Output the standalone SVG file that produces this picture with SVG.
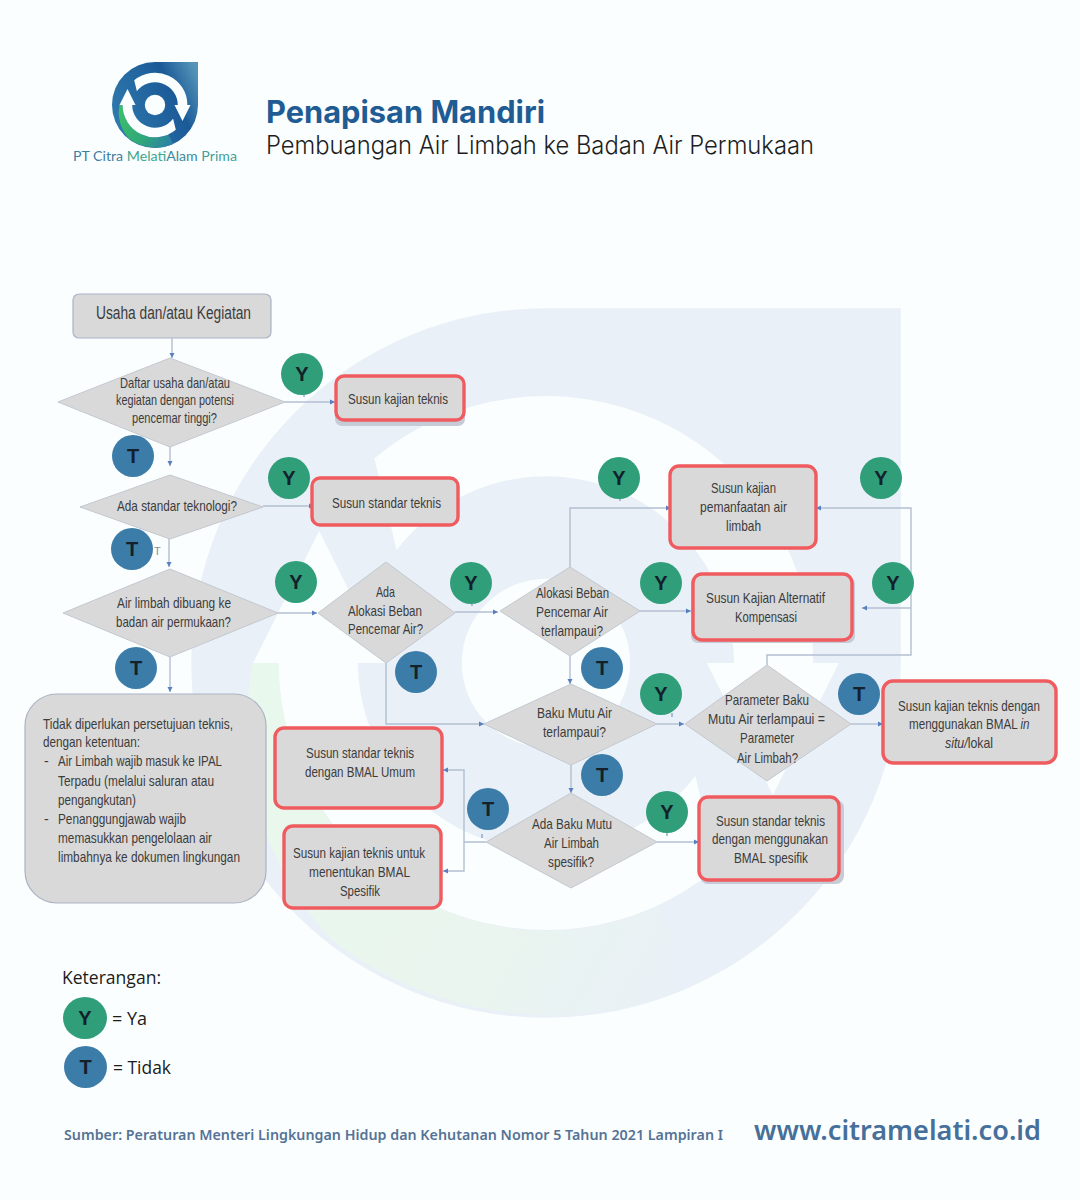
<svg xmlns="http://www.w3.org/2000/svg" width="1080" height="1200" viewBox="0 0 1080 1200">
<style>
text{font-family:"Liberation Sans",Arial,sans-serif}
.t{font-size:14.2px;fill:#3c3c3c}
.box{fill:#d9d9d9;stroke:#aab4c6;stroke-width:1.2}
.red{fill:#d9d9d9;stroke:#ef5b5e;stroke-width:3.4}
.shd{fill:#c6ccd7}
.dia{fill:#d9d9d9;stroke:#c3c8d0;stroke-width:1}
.c{fill:none;stroke:#b3bfd2;stroke-width:1.4}
.ca{fill:none;stroke:#b3bfd2;stroke-width:1.4;marker-end:url(#ah)}
.tick{fill:none;stroke:#7f98bd;stroke-width:1.2}
.y{fill:#2f9e79}
.n{fill:#3c7ca8}
.l{font-size:20px;font-weight:bold;fill:#14202a;text-anchor:middle}
.k{font-family:"Open Sans","Liberation Sans",sans-serif;font-size:18px;fill:#1c1c1c}
</style>
<defs>
<marker id="ah" markerUnits="userSpaceOnUse" markerWidth="8" markerHeight="8" refX="7" refY="4" orient="auto"><path d="M2,1.5 L7,4 L2,6.5 Z" fill="#5a7fc0"/></marker>
<path id="sweep" d="M-20.8,-24.8 A32.4,32.4 0 0 1 32.4,0 L35.5,0 L27.5,16 L19.5,0 L22.8,0 A22.8,22.8 0 0 0 -18.1,-13.7 Z"/>
<path id="drop" d="M0,-43 L43,-43 L43,0 A43,43 0 1 1 0,-43 Z"/>
<path id="cres" d="M-35.5,0 A38,38 0 0 0 -26,33.5 A43,43 0 0 0 18,39 L13.5,29.5 A32.4,32.4 0 0 1 -32.4,0 Z"/>
<linearGradient id="lg" gradientUnits="userSpaceOnUse" x1="-43" y1="10" x2="43" y2="-30"><stop offset="0" stop-color="#2f79ad"/><stop offset=".68" stop-color="#1b5a98"/><stop offset="1" stop-color="#5594b8"/></linearGradient>
<linearGradient id="gr" gradientUnits="userSpaceOnUse" x1="-30" y1="0" x2="22" y2="30"><stop offset="0" stop-color="#3cbd68"/><stop offset=".55" stop-color="#2fa77a"/><stop offset="1" stop-color="#2b7ea8"/></linearGradient>
<linearGradient id="wg" gradientUnits="userSpaceOnUse" x1="-30" y1="0" x2="22" y2="30"><stop offset="0" stop-color="#e9f8ec"/><stop offset=".6" stop-color="#e9f5ee"/><stop offset="1" stop-color="#e9f0f7"/></linearGradient>
</defs>
<rect width="1080" height="1200" fill="#fbfefe"/>
<g id="watermark" transform="translate(546,663) scale(8.25)">
<use href="#drop" fill="#e9f0f7"/>
<use href="#cres" fill="url(#wg)"/>
<use href="#sweep" fill="#fbfefe"/>
<use href="#sweep" fill="#fbfefe" transform="rotate(180)"/>
<circle r="10.2" fill="#fbfefe"/>
</g>
<g id="logo">
<g transform="translate(155,105)">
<use href="#drop" fill="url(#lg)"/>
<use href="#cres" fill="url(#gr)"/>
<use href="#sweep" fill="#fbfefe"/>
<use href="#sweep" fill="#fbfefe" transform="rotate(180)"/>
<circle r="10.2" fill="#fbfefe"/>
</g>
<text x="73" y="161" font-size="13" textLength="164" lengthAdjust="spacingAndGlyphs" style="font-family:Lato,'Open Sans',sans-serif"><tspan fill="#3d7fa3">PT Citra </tspan><tspan fill="#3fa68d">Melati</tspan><tspan fill="#3d8a9b">Alam </tspan><tspan fill="#3f9f9a">Prima</tspan></text>
</g>
<g id="title">
<text x="266" y="123" font-size="31" font-weight="700" fill="#1f5c94" textLength="279" lengthAdjust="spacingAndGlyphs" style="font-family:Inter,'Open Sans',sans-serif">Penapisan Mandiri</text>
<text x="266" y="154" font-size="25" fill="#1e1e1e" textLength="548" lengthAdjust="spacingAndGlyphs" style="font-family:Inter,'Open Sans',sans-serif;font-weight:300">Pembuangan Air Limbah ke Badan Air Permukaan</text>
</g>
<g id="connectors">
<path class="ca" d="M172,338 V358"/>
<path class="ca" d="M285,402 H335"/>
<path class="ca" d="M170,447 V466"/>
<path class="ca" d="M263,506 H314"/>
<path class="ca" d="M169,539 V567"/>
<path class="ca" d="M170,657 V692"/>
<path class="ca" d="M278,613 H317"/>
<path class="ca" d="M455,612 H498"/>
<path class="ca" d="M570,567 V508 H671"/>
<path class="ca" d="M640,611 H691"/>
<path class="ca" d="M570,656 V684"/>
<path class="ca" d="M657,724 H684"/>
<path class="ca" d="M851,724 H883"/>
<path class="ca" d="M386,663 V724 H484"/>
<path class="ca" d="M571,765 V793"/>
<path class="ca" d="M657,842 H699"/>
<path class="ca" d="M767,665 V655 H911 V508 H816"/>
<path class="ca" d="M911,608 H862"/>
<path class="ca" d="M486,842 H464 V770 H443"/>
<path class="ca" d="M464,842 V871 H443"/>
<path class="tick" d="M304,395 v2 M620,499 v2 M472,604 v2 M672,713 v4 M667,832 v4 M482,834 v4"/>
</g>
<g id="start"><rect class="box" x="73" y="294" width="198" height="44" rx="6"/><text class="t" style="font-size:17.5px" x="96" y="319" textLength="155" lengthAdjust="spacingAndGlyphs">Usaha dan/atau Kegiatan</text></g>
<g id="d1"><polygon class="dia" points="58,402 170,358 285,402 170,447"/>
<text class="t" x="120" y="388" textLength="110" lengthAdjust="spacingAndGlyphs">Daftar usaha dan/atau</text>
<text class="t" x="116" y="405" textLength="118" lengthAdjust="spacingAndGlyphs">kegiatan dengan potensi</text>
<text class="t" x="132" y="423" textLength="85" lengthAdjust="spacingAndGlyphs">pencemar tinggi?</text></g>
<g id="r1"><rect class="shd" x="335" y="380" width="130" height="46" rx="7"/><rect class="red" x="336" y="376" width="128" height="44" rx="8"/>
<text class="t" x="348" y="404" textLength="100" lengthAdjust="spacingAndGlyphs">Susun kajian teknis</text></g>
<g id="d2"><polygon class="dia" points="80,507 170,475 263,507 170,539"/>
<text class="t" x="117" y="511" textLength="120" lengthAdjust="spacingAndGlyphs">Ada standar teknologi?</text></g>
<g id="r2"><rect class="red" x="312" y="478" width="146" height="47" rx="8"/>
<text class="t" x="332" y="508" textLength="109" lengthAdjust="spacingAndGlyphs">Susun standar teknis</text></g>
<text x="154" y="555" font-size="11" fill="#8a8f96">T</text>
<g id="d3"><polygon class="dia" points="63,613 170,569 278,613 170,657"/>
<text class="t" x="117" y="608" textLength="114" lengthAdjust="spacingAndGlyphs">Air limbah dibuang ke</text>
<text class="t" x="116" y="627" textLength="115" lengthAdjust="spacingAndGlyphs">badan air permukaan?</text></g>
<g id="d4"><polygon class="dia" points="318,613 386,562 455,613 386,663"/>
<text class="t" x="376" y="597" textLength="19" lengthAdjust="spacingAndGlyphs">Ada</text>
<text class="t" x="348" y="616" textLength="74" lengthAdjust="spacingAndGlyphs">Alokasi Beban</text>
<text class="t" x="348" y="634" textLength="75" lengthAdjust="spacingAndGlyphs">Pencemar Air?</text></g>
<g id="d5"><polygon class="dia" points="500,611 570,567 640,611 570,656"/>
<text class="t" x="536" y="598" textLength="73" lengthAdjust="spacingAndGlyphs">Alokasi Beban</text>
<text class="t" x="536" y="617" textLength="72" lengthAdjust="spacingAndGlyphs">Pencemar Air</text>
<text class="t" x="541" y="636" textLength="62" lengthAdjust="spacingAndGlyphs">terlampaui?</text></g>
<g id="r3"><rect class="red" x="670" y="466" width="146" height="82" rx="9"/>
<text class="t" x="711" y="493" textLength="65" lengthAdjust="spacingAndGlyphs">Susun kajian</text>
<text class="t" x="700" y="512" textLength="87" lengthAdjust="spacingAndGlyphs">pemanfaatan air</text>
<text class="t" x="726" y="531" textLength="35" lengthAdjust="spacingAndGlyphs">limbah</text></g>
<g id="r4"><rect class="shd" x="691" y="577" width="164" height="66" rx="7"/><rect class="red" x="693" y="574" width="159" height="66" rx="9"/>
<text class="t" x="706" y="603" textLength="119" lengthAdjust="spacingAndGlyphs">Susun Kajian Alternatif</text>
<text class="t" x="735" y="622" textLength="62" lengthAdjust="spacingAndGlyphs">Kompensasi</text></g>
<g id="d6"><polygon class="dia" points="484,724 571,684 657,724 571,765"/>
<text class="t" x="537" y="718" textLength="75" lengthAdjust="spacingAndGlyphs">Baku Mutu Air</text>
<text class="t" x="543" y="737" textLength="63" lengthAdjust="spacingAndGlyphs">terlampaui?</text></g>
<g id="d7"><polygon class="dia" points="685,724 767,665 851,724 767,781"/>
<text class="t" x="725" y="705" textLength="84" lengthAdjust="spacingAndGlyphs">Parameter Baku</text>
<text class="t" x="708" y="724" textLength="117" lengthAdjust="spacingAndGlyphs">Mutu Air terlampaui =</text>
<text class="t" x="740" y="743" textLength="54" lengthAdjust="spacingAndGlyphs">Parameter</text>
<text class="t" x="737" y="763" textLength="61" lengthAdjust="spacingAndGlyphs">Air Limbah?</text></g>
<g id="r5"><rect class="red" x="883" y="681" width="173" height="82" rx="10"/>
<text class="t" x="898" y="711" textLength="142" lengthAdjust="spacingAndGlyphs">Susun kajian teknis dengan</text>
<text class="t" transform="translate(909,729) scale(.82,1)">menggunakan BMAL <tspan font-style="italic">in</tspan></text>
<text class="t" transform="translate(945,748) scale(.87,1)"><tspan font-style="italic">situ/</tspan>lokal</text></g>
<g id="r6"><rect class="red" x="275" y="728" width="167" height="80" rx="9"/>
<text class="t" x="306" y="758" textLength="108" lengthAdjust="spacingAndGlyphs">Susun standar teknis</text>
<text class="t" x="305" y="777" textLength="110" lengthAdjust="spacingAndGlyphs">dengan BMAL Umum</text></g>
<g id="r7"><rect class="red" x="284" y="826" width="157" height="82" rx="9"/>
<text class="t" x="293" y="858" textLength="132" lengthAdjust="spacingAndGlyphs">Susun kajian teknis untuk</text>
<text class="t" x="309" y="877" textLength="101" lengthAdjust="spacingAndGlyphs">menentukan BMAL</text>
<text class="t" x="340" y="896" textLength="40" lengthAdjust="spacingAndGlyphs">Spesifik</text></g>
<g id="d8"><polygon class="dia" points="486,842 571,793 657,842 571,888"/>
<text class="t" x="532" y="829" textLength="80" lengthAdjust="spacingAndGlyphs">Ada Baku Mutu</text>
<text class="t" x="544" y="848" textLength="55" lengthAdjust="spacingAndGlyphs">Air Limbah</text>
<text class="t" x="548" y="867" textLength="46" lengthAdjust="spacingAndGlyphs">spesifik?</text></g>
<g id="r8"><rect class="shd" x="700" y="800" width="144" height="84" rx="8"/><rect class="red" x="699" y="797" width="140" height="83" rx="9"/>
<text class="t" x="716" y="826" textLength="109" lengthAdjust="spacingAndGlyphs">Susun standar teknis</text>
<text class="t" x="712" y="844" textLength="116" lengthAdjust="spacingAndGlyphs">dengan menggunakan</text>
<text class="t" x="734" y="863" textLength="74" lengthAdjust="spacingAndGlyphs">BMAL spesifik</text></g>
<g id="note"><rect class="box" x="25" y="694" width="241" height="209" rx="32"/>
<text class="t" x="43" y="729" textLength="190" lengthAdjust="spacingAndGlyphs">Tidak diperlukan persetujuan teknis,</text>
<text class="t" x="43" y="747" textLength="97" lengthAdjust="spacingAndGlyphs">dengan ketentuan:</text>
<text class="t" x="44" y="766">-</text>
<text class="t" x="58" y="766" textLength="164" lengthAdjust="spacingAndGlyphs">Air Limbah wajib masuk ke IPAL</text>
<text class="t" x="58" y="786" textLength="156" lengthAdjust="spacingAndGlyphs">Terpadu (melalui saluran atau</text>
<text class="t" x="58" y="805" textLength="78" lengthAdjust="spacingAndGlyphs">pengangkutan)</text>
<text class="t" x="44" y="824">-</text>
<text class="t" x="58" y="824" textLength="128" lengthAdjust="spacingAndGlyphs">Penanggungjawab wajib</text>
<text class="t" x="58" y="843" textLength="154" lengthAdjust="spacingAndGlyphs">memasukkan pengelolaan air</text>
<text class="t" x="58" y="862" textLength="182" lengthAdjust="spacingAndGlyphs">limbahnya ke dokumen lingkungan</text></g>
<g id="badges">
<circle class="y" cx="302" cy="374" r="21"/><text class="l" x="302" y="381">Y</text>
<circle class="n" cx="133" cy="456" r="21"/><text class="l" x="133" y="463">T</text>
<circle class="y" cx="289" cy="478" r="21"/><text class="l" x="289" y="485">Y</text>
<circle class="n" cx="132" cy="549" r="21"/><text class="l" x="132" y="556">T</text>
<circle class="y" cx="296" cy="582" r="21"/><text class="l" x="296" y="589">Y</text>
<circle class="y" cx="471" cy="583" r="21"/><text class="l" x="471" y="590">Y</text>
<circle class="n" cx="136" cy="668" r="21"/><text class="l" x="136" y="675">T</text>
<circle class="n" cx="416" cy="672" r="21"/><text class="l" x="416" y="679">T</text>
<circle class="y" cx="619" cy="478" r="21"/><text class="l" x="619" y="485">Y</text>
<circle class="y" cx="881" cy="478" r="21"/><text class="l" x="881" y="485">Y</text>
<circle class="y" cx="661" cy="583" r="21"/><text class="l" x="661" y="590">Y</text>
<circle class="y" cx="893" cy="583" r="21"/><text class="l" x="893" y="590">Y</text>
<circle class="n" cx="602" cy="668" r="21"/><text class="l" x="602" y="675">T</text>
<circle class="y" cx="661" cy="694" r="21"/><text class="l" x="661" y="701">Y</text>
<circle class="n" cx="859" cy="694" r="21"/><text class="l" x="859" y="701">T</text>
<circle class="n" cx="602" cy="775" r="21"/><text class="l" x="602" y="782">T</text>
<circle class="n" cx="488" cy="809" r="21"/><text class="l" x="488" y="816">T</text>
<circle class="y" cx="667" cy="812" r="21"/><text class="l" x="667" y="819">Y</text>
</g>
<g id="legend">
<text class="k" x="62" y="984" textLength="99" lengthAdjust="spacingAndGlyphs">Keterangan:</text>
<ellipse class="y" cx="85" cy="1018" rx="22" ry="21"/><text class="l" x="85" y="1025">Y</text>
<text class="k" x="112" y="1025" textLength="35" lengthAdjust="spacingAndGlyphs">= Ya</text>
<ellipse class="n" cx="85.5" cy="1067" rx="21.5" ry="21"/><text class="l" x="85.5" y="1074">T</text>
<text class="k" x="113" y="1074" textLength="58" lengthAdjust="spacingAndGlyphs">= Tidak</text>
</g>
<g id="footer">
<text x="64" y="1140" font-size="14" font-weight="600" fill="#557396" textLength="659" lengthAdjust="spacingAndGlyphs" style="font-family:'Noto Sans','Liberation Sans',sans-serif">Sumber: Peraturan Menteri Lingkungan Hidup dan Kehutanan Nomor 5 Tahun 2021 Lampiran I</text>
<text x="754" y="1140" font-size="27" font-weight="600" fill="#46709a" textLength="287" lengthAdjust="spacingAndGlyphs" style="font-family:'Noto Sans','Liberation Sans',sans-serif">www.citramelati.co.id</text>
</g>
</svg>
